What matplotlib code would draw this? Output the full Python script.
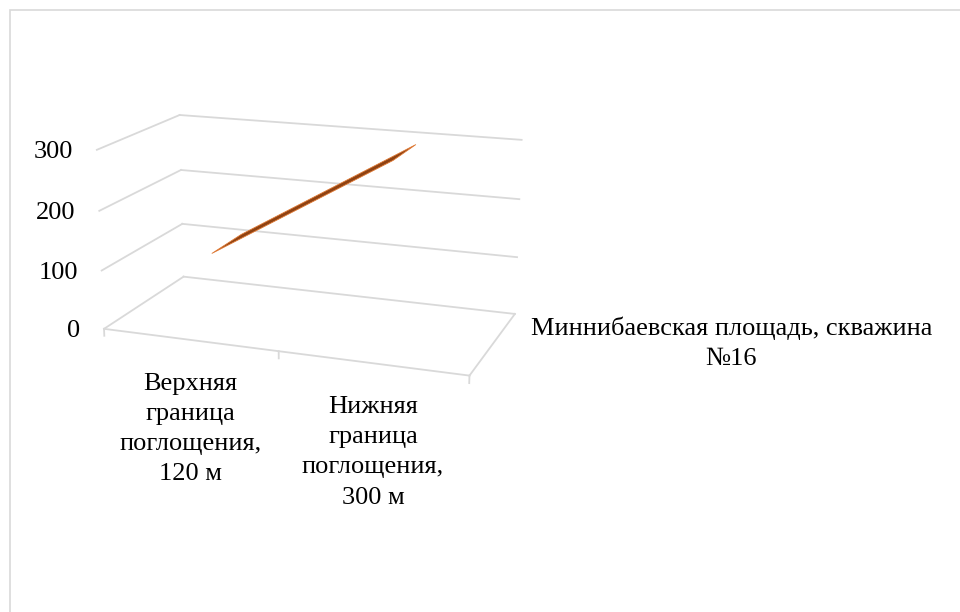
import numpy as np
import matplotlib
matplotlib.use("Agg")
import matplotlib.pyplot as plt
from matplotlib.transforms import ScaledTranslation
from matplotlib.patches import Rectangle
from mpl_toolkits.mplot3d.art3d import Poly3DCollection

# ---- data ----
categories = ["Верхняя\nграница\nпоглощения,\n120 м",
              "Нижняя\nграница\nпоглощения,\n300 м"]
series_name = "Миннибаевская площадь, скважина\n№16"
values = [120, 300]
value_ticks = [0, 100, 200, 300]

GRID = "#d9d9d9"
FONT = "Liberation Serif"
FS = 19
W, H, DPI = 960, 612, 100

fig = plt.figure(figsize=(W / DPI, H / DPI), dpi=DPI)
fig.patch.set_facecolor("white")

# chart-area outline
fig.add_artist(Rectangle((10 / W, -0.1), 1.2, (H - 10) / H + 0.1,
                         transform=fig.transFigure, fill=False,
                         edgecolor=GRID, lw=1.2))

S = 445
ax = fig.add_axes([84 / W, 149 / H, S / W, S / H], projection="3d",
                  computed_zorder=False)
ax.set_proj_type("persp", focal_length=0.615)
ax.view_init(elev=15.6, azim=-69.8)
ax.set_box_aspect((2, 1, 0.975), zoom=1)
ax.set_axis_off()

n = len(categories)
xs = np.arange(n) + 0.5
zmax = value_ticks[-1]

# walls and floor
for z in value_ticks:
    ax.plot([0, n], [1, 1], [z, z], color=GRID, lw=1.3, zorder=1)
    ax.plot([0, 0], [0, 1], [z, z], color=GRID, lw=1.3, zorder=1)
ax.plot([0, n], [0, 0], [0, 0], color=GRID, lw=1.3, zorder=1)
ax.plot([n, n], [0, 1], [0, 0], color=GRID, lw=1.3, zorder=1)
for i in range(n + 1):
    ax.plot([i, i], [0, 0], [0, -12], color=GRID, lw=1.3, zorder=1)

# series ribbon (gap depth 150% -> ribbon occupies 0.3..0.7 of depth)
d0, d1 = 0.3, 0.7
verts = [[(xs[0], d0, values[0]), (xs[1], d0, values[1]),
          (xs[1], d1, values[1]), (xs[0], d1, values[0])]]
ribbon = Poly3DCollection(verts, facecolor="#8f4212", edgecolor="#e07a35",
                          linewidth=0.6, zorder=5)
ax.add_collection3d(ribbon)

ax.set_xlim(0, n)
ax.set_ylim(0, 1)
ax.set_zlim(0, zmax)


def project(x, y, z):
    v = ax.get_proj() @ np.array([x, y, z, 1.0])
    return v[0] / v[3], v[1] / v[3]


def put(x, y, z, s, dx, dy, **kw):
    px, py = project(x, y, z)
    tr = ax.transData + ScaledTranslation(dx / DPI, dy / DPI, fig.dpi_scale_trans)
    ax.text2D(px, py, s, transform=tr, family=FONT, fontsize=FS,
              color="black", **kw)


for z in value_ticks:
    put(0, 0, z, str(z), -24, -2, ha="right", va="center")

for x, lab in zip(xs, categories):
    put(x, 0, 0, lab, 1, -33, ha="center", va="top",
        multialignment="center", linespacing=1.48)

put(n, 0.5, 0, series_name, 37, 0, ha="left", va="center",
    multialignment="center", linespacing=1.45)

fig.savefig("out.png", dpi=DPI, facecolor="white")
